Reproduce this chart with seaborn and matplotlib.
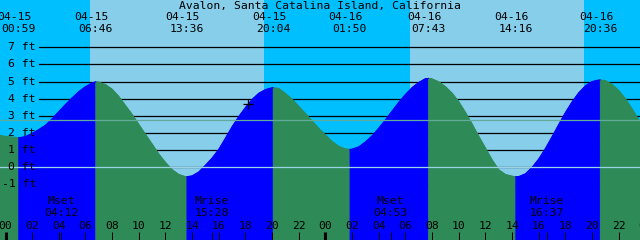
import numpy as np
import pandas as pd
import matplotlib
matplotlib.use("Agg")
import matplotlib.pyplot as plt
import matplotlib.transforms as mtransforms
import seaborn as sns

station = "Avalon, Santa Catalina Island, California"

# water level, hours after midnight 04-15 (feet)
hours = list(range(-1, 49))
heights = [2.05, 1.80, 1.72, 1.98, 2.45, 3.25, 4.05, 4.70, 4.96, 4.55,
           3.60, 2.50, 1.35, 0.28, -0.42, -0.50, 0.12, 1.05, 2.37, 3.49,
           4.32, 4.64, 4.30, 3.55, 2.70, 1.87, 1.22, 1.06, 1.48, 2.28,
           3.28, 4.25, 4.95, 5.15, 4.70, 3.82, 2.52, 1.12, -0.15, -0.52,
           -0.38, 0.49, 1.79, 3.20, 4.35, 5.00, 5.05, 4.47, 3.40, 2.10]
# readings at the half hours (-0.5 ... 47.5)
half_hours = [h + 0.5 for h in range(-1, 48)]
half_heights = [1.89, 1.77, 1.79, 2.20, 2.83, 3.66, 4.41, 4.92, 4.82, 4.13,
                3.08, 1.92, 0.77, -0.14, -0.55, -0.27, 0.54, 1.70, 2.96, 3.96,
                4.53, 4.59, 3.96, 3.13, 2.27, 1.50, 1.07, 1.19, 1.84, 2.77,
                3.79, 4.65, 5.17, 4.98, 4.32, 3.20, 1.80, 0.43, -0.42, -0.54,
                0.00, 1.10, 2.50, 3.82, 4.75, 5.09, 4.83, 3.99, 2.76]

# highs and lows
event_hours = [0.983, 6.767, 13.6, 20.067, 25.833, 31.717, 38.267, 44.6]
event_heights = [1.72, 4.98, -0.55, 4.64, 1.04, 5.18, -0.55, 5.09]
event_dates = ["04-15", "04-15", "04-15", "04-15", "04-16", "04-16", "04-16", "04-16"]
event_times = ["00:59", "06:46", "13:36", "20:04", "01:50", "07:43", "14:16", "20:36"]

sunrise = [6.34, 30.34]
sunset = [19.39, 43.39]

moon_hours = [4.2, 15.467, 28.883, 40.617]
moon_names = ["Mset", "Mrise", "Mset", "Mrise"]
moon_times = ["04:12", "15:28", "04:53", "16:37"]

now_hour = 18.2
now_height = 3.69
msl = 2.74
ft_levels = [-1, 0, 1, 2, 3, 4, 5, 6, 7]
hour_ticks = list(range(0, 50, 2))

night_sky = "#00BFFF"
day_sky = "#87CEEB"
rising = "#0000FF"
falling = "#2E8B57"

plt.rcParams["font.family"] = ["DejaVu Sans Mono"]
fs = 8.2

fig = plt.figure(figsize=(6.4, 2.4), dpi=100)
ax = fig.add_axes([0, 0, 1, 1])
ax.set_xlim(-5.5 / 13.333, 634.5 / 13.333)
ax.set_ylim(-4.24, 9.755)
ax.axis("off")

# sky
x0, x1 = ax.get_xlim()
edges = [x0] + sorted(sunrise + sunset) + [x1]
for i in range(len(edges) - 1):
    ax.axvspan(edges[i], edges[i + 1], color=night_sky if i % 2 == 0 else day_sky,
               lw=0, zorder=0)

for lv in ft_levels:
    ax.axhline(lv, xmin=39 / 640, xmax=1, color="black", lw=0.9, zorder=1)

# water, split at each high / low
obs = pd.DataFrame({"hour": hours + half_hours, "ft": heights + half_heights})
ext = pd.DataFrame({"hour": event_hours, "ft": event_heights})
allpts = pd.concat([obs, ext]).sort_values("hour").reset_index(drop=True)
bounds = [hours[0]] + event_hours + [hours[-1]]
pieces = []
for i in range(len(bounds) - 1):
    seg = allpts[(allpts.hour >= bounds[i]) & (allpts.hour <= bounds[i + 1])].copy()
    phase = "rise" if seg.ft.iloc[-1] > seg.ft.iloc[0] else "fall"
    seg["phase"] = phase
    seg["seg"] = i
    pieces.append(seg)
    col = rising if phase == "rise" else falling
    ax.fill_between(seg.hour, seg.ft, -10, color=col, lw=0.4, ec=col, zorder=2)
curve = pd.concat(pieces)
sns.lineplot(data=curve, x="hour", y="ft", hue="phase", units="seg", estimator=None,
             palette={"rise": rising, "fall": falling}, lw=0.8, legend=False,
             sort=False, ax=ax, zorder=3)

# datum and mean sea level
ax.axhline(0, color="#9ad3e6", lw=0.9, zorder=4)
ax.axhline(msl, color="#62ab9c", lw=0.9, zorder=4)

sns.scatterplot(x=[now_hour], y=[now_height], marker="+", s=55, color="black",
                linewidth=0.9, ax=ax, zorder=6)

trans = mtransforms.blended_transform_factory(ax.transData, ax.transAxes)


def py(p):
    return 1 - p / 240


ax.text(0.5, py(6), station, transform=ax.transAxes, ha="center", va="center",
        fontsize=fs, zorder=6)
for h, d, t in zip(event_hours, event_dates, event_times):
    ax.text(h - 0.3, py(17), d, transform=trans, ha="center", va="center", fontsize=fs, zorder=6)
    ax.text(h, py(29.5), t, transform=trans, ha="center", va="center", fontsize=fs, zorder=6)

for lv in ft_levels:
    ax.text(36 / 640, lv, f"{lv} ft",
            transform=mtransforms.blended_transform_factory(ax.transAxes, ax.transData),
            ha="right", va="center", fontsize=fs, zorder=6)

for h, n, t in zip(moon_hours, moon_names, moon_times):
    ax.text(h, py(201.5), n, transform=trans, ha="center", va="center", fontsize=fs, zorder=6)
    ax.text(h, py(213), t, transform=trans, ha="center", va="center", fontsize=fs, zorder=6)
    ax.vlines(h, 0, 8 / 240, transform=trans, color="black", lw=0.7, zorder=6)

for h in hour_ticks:
    ax.text(h, py(225.7), f"{h % 24:02d}", transform=trans, ha="center", va="center",
            fontsize=fs, zorder=6)
    ax.vlines(h, 0, 8 / 240, transform=trans, color="black",
              lw=2.2 if h % 24 == 0 else 0.7, zorder=6)

fig.savefig("out.png", dpi=100)
